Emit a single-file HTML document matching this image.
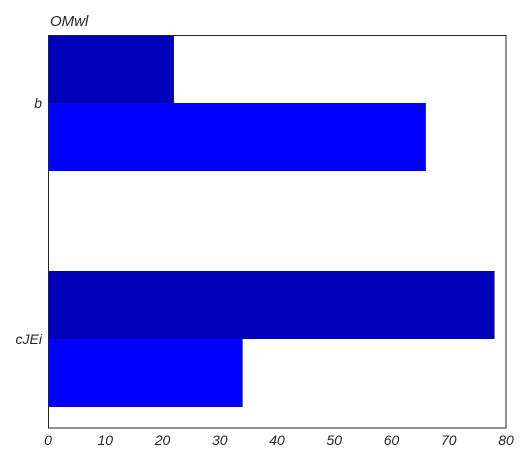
<!DOCTYPE html>
<html><head><meta charset="utf-8"><style>
body{margin:0;background:#fff;}
text{font-family:"Liberation Sans",sans-serif;font-style:italic;fill:#262626;}
</style></head><body>
<svg id="chart" width="528" height="462" xmlns="http://www.w3.org/2000/svg">
<text x="50" y="26" font-size="15">OMwl</text>
<g id="bars"></g>
<rect x="48.5" y="35.5" width="457.5" height="392.5" fill="none" stroke="#262626" stroke-width="1"/>
<g id="axes"></g>
</svg>
<script>
const categories = ["b", "cJEi"];
const series1 = [22, 78];
const series2 = [66, 34];
const xTicks = [0, 10, 20, 30, 40, 50, 60, 70, 80];
const ns = "http://www.w3.org/2000/svg";
const L = 48, R = 506, T = 35, B = 428;
const xs = v => L + (v - 0) / 80 * (R - L);
const catCenter = i => 103 + i * 236;
const barH = 68;
const bars = document.getElementById('bars');
const axes = document.getElementById('axes');
function mk(tag, attrs, parent) { const e = document.createElementNS(ns, tag); for (const k in attrs) e.setAttribute(k, attrs[k]); parent.appendChild(e); return e; }
categories.forEach((c, i) => {
  const cy = catCenter(i);
  const r1 = mk('rect', {x: xs(0), y: cy - barH, width: xs(series1[i]) - xs(0), height: barH, fill: '#0000b8'}, bars);
  
  
  const r2 = mk('rect', {x: xs(0), y: cy, width: xs(series2[i]) - xs(0), height: barH, fill: '#0000ff'}, bars);
  
  
  const t = mk('text', {x: 42, y: cy + 5, 'text-anchor': 'end', 'font-size': 14}, axes);
  t.textContent = c;
  
  
});
xTicks.forEach(v => {
  const t = mk('text', {x: xs(v), y: 445, 'text-anchor': 'middle', 'font-size': 14}, axes);
  t.textContent = v;
  
  
});
</script>
</body></html>
